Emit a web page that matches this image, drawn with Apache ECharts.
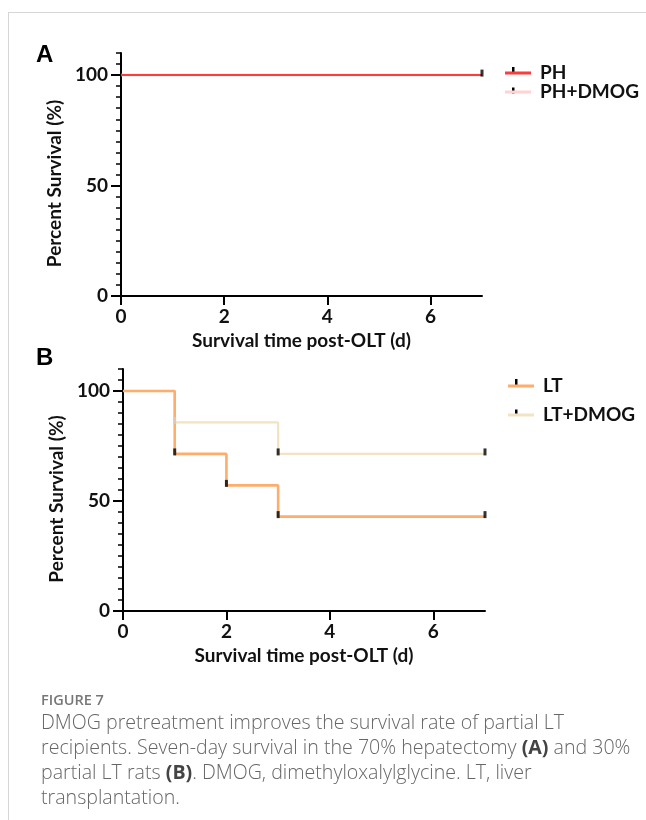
<!DOCTYPE html>
<html>
<head>
<meta charset="utf-8">
<script src="https://cdn.jsdelivr.net/npm/echarts@6/dist/echarts.min.js"></script>
<style>
html,body{margin:0;padding:0;background:#fff;}
#wrap{position:relative;width:646px;height:820px;overflow:hidden;}
#frame{position:absolute;left:8px;top:12px;width:700px;height:900px;border-top:1.5px solid #d6d6d6;border-left:1.5px solid #d6d6d6;}
#chart{position:absolute;left:0;top:0;width:646px;height:820px;}
#cap{position:absolute;left:41px;top:690px;width:605px;font-family:"Open Sans",sans-serif;color:#666;}
#cap .fig{font-size:14.5px;font-weight:600;color:#777;line-height:19px;}
#cap .body{font-size:19.6px;line-height:25px;color:#666;font-weight:300;}
#cap b{color:#444;font-weight:700;}
</style>
</head>
<body>
<div id="wrap">
<div id="frame"></div>
<div id="chart"></div>
<div id="cap"><div class="fig">FIGURE 7</div><div class="body">DMOG pretreatment improves the survival rate of partial LT<br>recipients. Seven-day survival in the 70% hepatectomy <b>(A)</b> and 30%<br>partial LT rats <b>(B)</b>. DMOG, dimethyloxalylglycine. LT, liver<br>transplantation.</div></div>
</div>
<script>
// ---- data ----
const xTickValues = [0, 2, 4, 6];
const yTickValues = [0, 50, 100];
const seriesNamesA = ['PH', 'PH+DMOG'];
const seriesNamesB = ['LT', 'LT+DMOG'];
const phTimes = [0, 7];
const phSurvival = [100, 100];
const phDmogTimes = [0, 7];
const phDmogSurvival = [100, 100];
const ltTimes = [0, 1, 2, 3, 7];
const ltSurvival = [100, 71.4, 57.1, 42.9, 42.9];
const ltDmogTimes = [0, 1, 3, 7];
const ltDmogSurvival = [100, 85.7, 71.4, 71.4];
const phMarkTimes = [7];
const phMarkSurvival = [100];
const ltMarkTimes = [1, 2, 3, 7];
const ltMarkSurvival = [71.4, 57.1, 42.9, 42.9];
const ltDmogMarkTimes = [3, 7];
const ltDmogMarkSurvival = [71.4, 71.4];
const ltDmogFaintTimes = [1];
const ltDmogFaintSurvival = [85.7];

const zip = (a, b) => a.map((v, i) => [v, b[i]]);

const FONT = 'Lato';
const FS = 19;
const colPH = '#ff3b3b', colPHD = '#ffd3d3', colLT = '#ffad6b', colLTD = '#f2e3c2';
const txt = {fontFamily: FONT, fontWeight: 'bold', fontSize: FS, color: '#111'};

function xAxisFor(gi) {
  return {
    type: 'value', gridIndex: gi, min: 0, max: 7,
    name: 'Survival time post-OLT (d)', nameLocation: 'middle', nameGap: 35,
    nameTextStyle: {...txt},
    axisLine: {show: true, onZero: false, lineStyle: {color: '#000', width: 2}},
    axisTick: {show: true, length: 9, lineStyle: {color: '#000', width: 2}, customValues: xTickValues},
    axisLabel: {margin: 11, ...txt, customValues: xTickValues},
    splitLine: {show: false}
  };
}
function yAxesFor(gi) {
  return [{
    type: 'value', gridIndex: gi, min: 0, max: 110, position: 'left',
    name: 'Percent Survival (%)', nameLocation: 'middle', nameGap: 55,
    nameTextStyle: {...txt, padding: [0, 18, 0, 0]},
    axisLine: {show: true, onZero: false, lineStyle: {color: '#000', width: 2}},
    axisTick: {show: true, length: 10, lineStyle: {color: '#000', width: 2}, customValues: yTickValues},
    axisLabel: {margin: 13, ...txt, customValues: yTickValues},
    splitLine: {show: false}
  }, {
    type: 'value', gridIndex: gi, min: 0, max: 110, interval: 5, position: 'left', offset: 0,
    axisLine: {show: false},
    axisTick: {show: true, length: 5, lineStyle: {color: '#000', width: 1.5}},
    axisLabel: {show: false},
    splitLine: {show: false}
  }];
}
function lineSeries(name, xi, yi, data, color, width, z) {
  return {name, type: 'line', xAxisIndex: xi, yAxisIndex: yi, step: 'end', data,
    color, showSymbol: false, symbol: 'none', lineStyle: {color, width}, z, animation: false, silent: true};
}
function markSeries(xi, yi, data, color) {
  return {type: 'scatter', xAxisIndex: xi, yAxisIndex: yi, data, symbol: 'rect', symbolSize: [3, 7],
    symbolOffset: [0, -2], itemStyle: {color}, z: 10, animation: false, silent: true};
}

const chart = echarts.init(document.getElementById('chart'), null, {renderer: 'canvas'});
const ys = [...yAxesFor(0), ...yAxesFor(1)];
chart.setOption({
  animation: false,
  backgroundColor: 'transparent',
  grid: [
    {left: 121, top: 53, width: 361, height: 243},
    {left: 123, top: 369, width: 362, height: 242}
  ],
  xAxis: [xAxisFor(0), xAxisFor(1)],
  yAxis: ys,
  legend: [
    {data: seriesNamesA, left: 500, top: 58, orient: 'vertical', icon: 'rect', itemWidth: 26, itemHeight: 3, itemGap: -1,
      textStyle: {...txt, lineHeight: 20, padding: [0, 0, 0, 4]}, selectedMode: false},
    {data: seriesNamesB, left: 503, top: 371, orient: 'vertical', icon: 'rect', itemWidth: 26, itemHeight: 3, itemGap: 9,
      textStyle: {...txt, lineHeight: 20, padding: [0, 0, 0, 4]}, selectedMode: false}
  ],
  graphic: [
    {type: 'text', left: 36, top: 43, style: {text: 'A', font: 'bold 24px "Liberation Sans"', fill: '#000'}},
    {type: 'text', left: 36, top: 346, style: {text: 'B', font: 'bold 24px "Liberation Sans"', fill: '#000'}},
    {type: 'rect', shape: {x: 512, y: 67, width: 2.5, height: 6}, style: {fill: '#000'}},
    {type: 'rect', shape: {x: 512, y: 87.5, width: 2.5, height: 6}, style: {fill: '#000'}},
    {type: 'rect', shape: {x: 515, y: 379, width: 2.5, height: 6}, style: {fill: '#000'}},
    {type: 'rect', shape: {x: 515, y: 409.5, width: 2.5, height: 6}, style: {fill: '#000'}}
  ],
  series: [
    lineSeries('PH+DMOG', 0, 0, zip(phDmogTimes, phDmogSurvival), colPHD, 2.5, 2),
    lineSeries('PH', 0, 0, zip(phTimes, phSurvival), colPH, 2, 3),
    markSeries(0, 0, zip(phMarkTimes, phMarkSurvival), '#000'),
    lineSeries('LT+DMOG', 1, 2, zip(ltDmogTimes, ltDmogSurvival), colLTD, 2.2, 2),
    lineSeries('LT', 1, 2, zip(ltTimes, ltSurvival), colLT, 2.6, 3),
    markSeries(1, 2, zip(ltMarkTimes, ltMarkSurvival), '#000'),
    markSeries(1, 2, zip(ltDmogMarkTimes, ltDmogMarkSurvival), '#000'),
    markSeries(1, 2, zip(ltDmogFaintTimes, ltDmogFaintSurvival), '#cfcfcf')
  ]
});
</script>
</body>
</html>
